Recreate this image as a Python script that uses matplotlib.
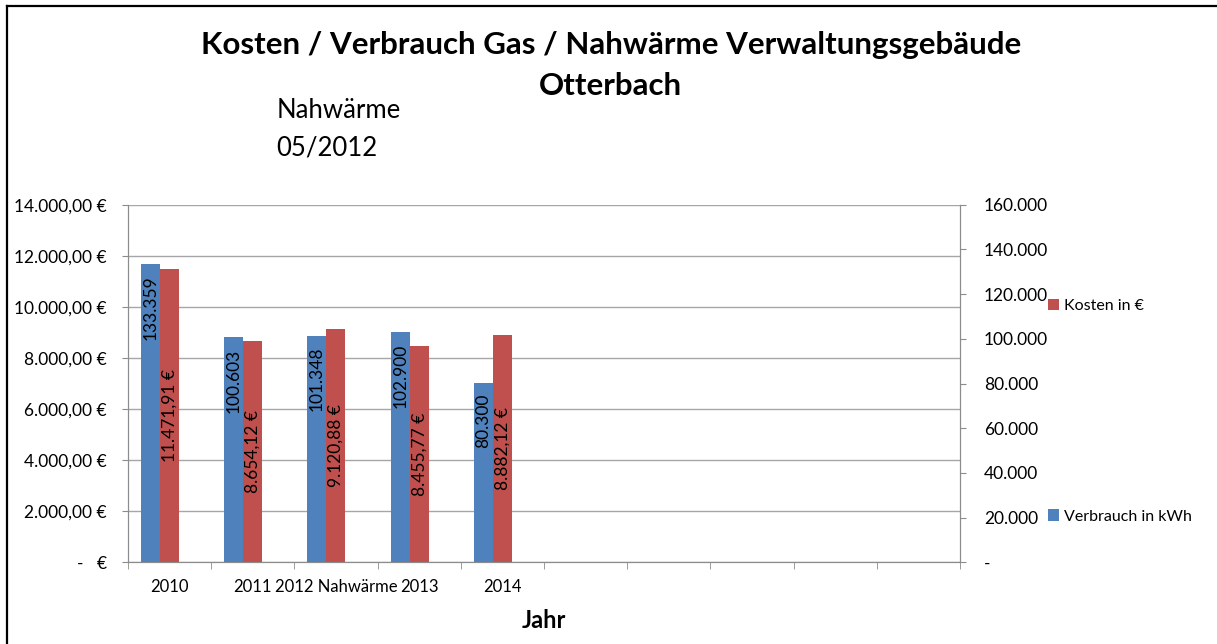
import matplotlib.pyplot as plt
from matplotlib.lines import Line2D
from matplotlib.ticker import FuncFormatter, MultipleLocator
import numpy as np

plt.rcParams['font.family'] = ['Lato', 'DejaVu Sans']

# Daten
jahre = ['2010', '2011', '2012 Nahwärme', '2013', '2014', '', '', '', '', '']
verbrauch = [133359, 100603, 101348, 102900, 80300]   # kWh
kosten = [11471.91, 8654.12, 9120.88, 8455.77, 8882.12]  # €

blau = '#4F81BD'
rot = '#C0504D'
grau = '#8C8C8C'


def euro(v):
    s = f'{v:,.2f}'.replace(',', 'X').replace('.', ',').replace('X', '.')
    return s + ' €'


def tsd(v):
    return f'{v:,.0f}'.replace(',', '.')


fig = plt.figure(figsize=(12.17, 6.44), dpi=100)
ax = fig.add_axes([0.105, 0.127, 0.684, 0.555])
ax2 = ax.twinx()

x = np.arange(len(verbrauch))
b = 0.228
bars_k = ax.bar(x, kosten, width=b, color=rot, zorder=3, label='Kosten in €')
bars_v = ax2.bar(x - b, verbrauch, width=b, color=blau, zorder=3, label='Verbrauch in kWh')

# Achsen
ax.set_xlim(-0.5, len(jahre) - 0.5)
ax.set_ylim(0, 14000)
ax2.set_ylim(0, 160000)
ax.yaxis.set_major_locator(MultipleLocator(2000))
ax2.yaxis.set_major_locator(MultipleLocator(20000))
ax.yaxis.set_major_formatter(FuncFormatter(lambda v, p: '-   €' if v == 0 else euro(v)))
ax2.yaxis.set_major_formatter(FuncFormatter(lambda v, p: '-' if v == 0 else tsd(v)))
ax.grid(axis='y', color='#A6A6A6', linewidth=1.0, zorder=0)
ax.set_axisbelow(True)

ax.set_xticks(np.arange(len(jahre)))
ax.set_xticklabels(jahre)
ax.set_xticks(np.arange(len(jahre) + 1) - 0.5, minor=True)
ax.tick_params(axis='x', which='major', length=0, pad=12, labelsize=12)
ax.tick_params(axis='x', which='minor', length=5, color=grau, direction='out')
ax.tick_params(axis='y', length=4, color=grau, pad=11, labelsize=12.5)
ax2.tick_params(axis='y', length=4, color=grau, pad=13, labelsize=12.5)

for a in (ax, ax2):
    a.spines['top'].set_visible(False)
    for s in ('left', 'right', 'bottom'):
        a.spines[s].set_color(grau)

ax.set_xlabel('Jahr', fontsize=17, fontweight='bold', labelpad=10)

# Datenbeschriftungen
for r, v in zip(bars_v, verbrauch):
    ax2.annotate(tsd(v), (r.get_x() + r.get_width() / 2, v), xytext=(0, -8),
                 textcoords='offset points', rotation=90, ha='center', va='top',
                 fontsize=12.5, zorder=4)
for r, v in zip(bars_k, kosten):
    ax.text(r.get_x() + r.get_width() / 2, v / 2, euro(v), rotation=90,
            ha='center', va='center', fontsize=12.5, zorder=4)

# Titel
fig.text(0.502, 0.93, 'Kosten / Verbrauch Gas / Nahwärme Verwaltungsgebäude',
         ha='center', va='center', fontsize=22.5, fontweight='bold')
fig.text(0.502, 0.867, 'Otterbach', ha='center', va='center', fontsize=22.5, fontweight='bold')
fig.text(0.227, 0.828, 'Nahwärme', ha='left', va='center', fontsize=18.5)
fig.text(0.227, 0.77, '05/2012', ha='left', va='center', fontsize=18.5)

# Legende
fig.legend(handles=[bars_k], loc='center left', bbox_to_anchor=(0.849, 0.525),
           frameon=False, fontsize=11.5, handlelength=0.7, handleheight=0.7,
           handletextpad=0.35)
fig.legend(handles=[bars_v], loc='center left', bbox_to_anchor=(0.849, 0.198),
           frameon=False, fontsize=11.5, handlelength=0.7, handleheight=0.7,
           handletextpad=0.35)

# Rahmen
fig.add_artist(Line2D([0.0055, 0.0055], [0, 0.99], transform=fig.transFigure,
                      color='black', linewidth=1.6))
fig.add_artist(Line2D([0.0055, 1.0], [0.99, 0.99], transform=fig.transFigure,
                      color='black', linewidth=1.6))

fig.savefig('out.png', dpi=100)
